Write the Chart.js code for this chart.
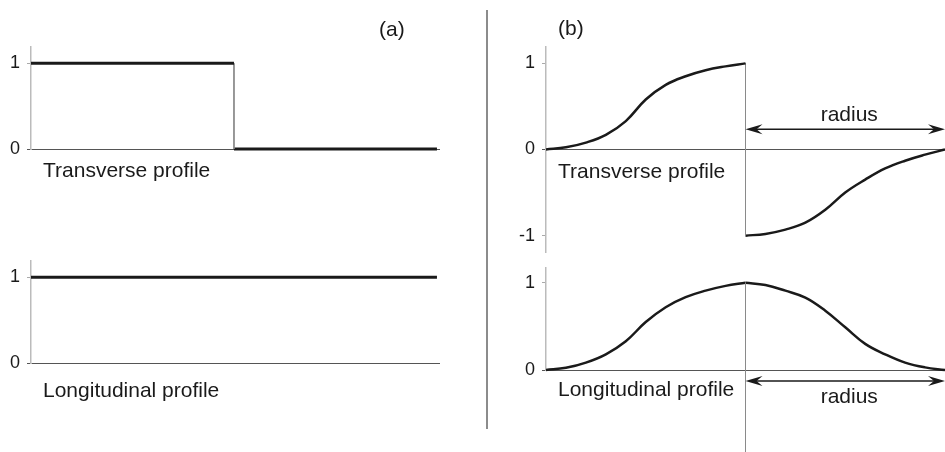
<!DOCTYPE html>
<html>
<head>
<meta charset="utf-8">
<script src="https://cdn.jsdelivr.net/npm/chart.js@4.4.1/dist/chart.umd.min.js"></script>
<style>
    html, body { margin: 0; padding: 0; background: #fff; }
    #wrap { position: relative; width: 945px; height: 452px; }
    #wrap canvas { position: absolute; left: 0; top: 0; }
</style>
</head>
<body>
<div id="wrap">
    <canvas id="aTop" width="945" height="452"></canvas>
    <canvas id="aBottom" width="945" height="452"></canvas>
    <canvas id="bTop" width="945" height="452"></canvas>
    <canvas id="bBottom" width="945" height="452"></canvas>
</div>
<script>
// Tick labels
const ticksA = [0, 1];
const ticksB = [-1, 0, 1];

// Panel (a): step profile and flat profile (x in radius units)
const aInsideX = [0, 1];
const aInsideY = [1, 1];
const aOutsideX = [1, 2];
const aOutsideY = [0, 0];
const aLongX = [0, 2];
const aLongY = [1, 1];

// Panel (b): smooth profiles
const bLeftX = [0, 0.1, 0.2, 0.3, 0.4, 0.5, 0.6, 0.7, 0.8, 0.9, 1.0];
const bRightX = [1.0, 1.1, 1.2, 1.3, 1.4, 1.5, 1.6, 1.7, 1.8, 1.9, 2.0];
const bTransLeft = [0, 0.025, 0.08, 0.17, 0.33, 0.58, 0.75, 0.85, 0.92, 0.965, 1];
const bTransRight = [-1, -0.98, -0.93, -0.85, -0.70, -0.50, -0.35, -0.22, -0.13, -0.06, 0];
const bLongLeft = [0, 0.025, 0.085, 0.18, 0.33, 0.55, 0.72, 0.835, 0.91, 0.965, 1];
const bLongRight = [1, 0.975, 0.91, 0.83, 0.68, 0.49, 0.30, 0.18, 0.085, 0.03, 0];

const FONT = '"Liberation Sans", Arial, sans-serif';
const INK = '#1a1a1a';

function pts(xs, ys) {
    return xs.map((x, i) => ({ x: x, y: ys[i] }));
}

function curve(data, width, smooth) {
    return { data: data, borderColor: INK, borderWidth: width, pointRadius: 0, tension: smooth ? 0.4 : 0, clip: 4 };
}

function thin(data) {
    return { data: data, borderColor: '#8a8a8a', borderWidth: 1, pointRadius: 0, clip: 4 };
}

function label(ctx, text, x, y, align) {
    ctx.save();
    ctx.font = '21px ' + FONT;
    ctx.fillStyle = INK;
    ctx.textAlign = align || 'left';
    ctx.textBaseline = 'alphabetic';
    ctx.fillText(text, x, y);
    ctx.restore();
}

function head(ctx, tipX, y, dir) {
    const len = 17, half = 5, notch = 11;
    ctx.beginPath();
    ctx.moveTo(tipX, y);
    ctx.lineTo(tipX + dir * len, y - half);
    ctx.lineTo(tipX + dir * notch, y);
    ctx.lineTo(tipX + dir * len, y + half);
    ctx.closePath();
    ctx.fill();
}

function arrow(ctx, x1, x2, y) {
    ctx.save();
    ctx.strokeStyle = INK;
    ctx.fillStyle = INK;
    ctx.lineWidth = 1.5;
    ctx.beginPath();
    ctx.moveTo(x1 + 8, y);
    ctx.lineTo(x2 - 8, y);
    ctx.stroke();
    head(ctx, x1, y, 1);
    head(ctx, x2, y, -1);
    ctx.restore();
}

// Build one panel
function makePanel(id, opt) {
    return new Chart(document.getElementById(id), {
        type: 'line',
        data: { datasets: opt.datasets },
        options: {
            responsive: false,
            animation: false,
            layout: { padding: { left: 0, top: opt.top, right: opt.right, bottom: opt.bottom } },
            plugins: { legend: { display: false }, tooltip: { enabled: false } },
            scales: {
                x: { type: 'linear', display: false, min: 0, max: opt.xMax },
                y: {
                    type: 'linear',
                    min: opt.yMin,
                    max: opt.yMax,
                    afterBuildTicks: s => { s.ticks = opt.ticks.map(v => ({ value: v })); },
                    afterFit: s => { s.width = opt.axisX; },
                    ticks: { padding: 7, color: INK, font: { family: FONT, size: 18 } },
                    grid: {
                        color: c => (c.tick && c.tick.value === 0) ? '#555' : 'rgba(0,0,0,0)',
                        tickColor: c => (c.tick && c.tick.value === 0) ? '#555' : '#aaa',
                        tickLength: 4,
                        lineWidth: 1
                    },
                    border: { color: '#bbb', width: 1.5 }
                }
            }
        },
        plugins: [{ id: 'notes_' + id, afterDraw: chart => opt.notes(chart) }]
    });
}

// (a) transverse
makePanel('aTop', {
    axisX: 31, top: 47, bottom: 303, right: 505, xMax: 2.015,
    yMin: 0, yMax: 1.19, ticks: ticksA,
    datasets: [
        curve(pts(aInsideX, aInsideY), 3),
        thin([{ x: 1, y: aInsideY[1] }, { x: 1, y: aOutsideY[0] }]),
        curve(pts(aOutsideX, aOutsideY), 3)
    ],
    notes: chart => {
        const ctx = chart.ctx, a = chart.chartArea, y0 = chart.scales.y.getPixelForValue(0);
        label(ctx, 'Transverse profile', a.left + 12, y0 + 28);
        label(ctx, '(a)', a.right - 61, a.top - 11);
        // separator between (a) and (b)
        ctx.save();
        ctx.strokeStyle = '#666';
        ctx.lineWidth = 1.5;
        ctx.beginPath();
        ctx.moveTo(487, 10);
        ctx.lineTo(487, 429);
        ctx.stroke();
        ctx.restore();
    }
});

// (a) longitudinal
makePanel('aBottom', {
    axisX: 31, top: 261, bottom: 89, right: 505, xMax: 2.015,
    yMin: 0, yMax: 1.19, ticks: ticksA,
    datasets: [curve(pts(aLongX, aLongY), 3)],
    notes: chart => {
        const a = chart.chartArea, y0 = chart.scales.y.getPixelForValue(0);
        label(chart.ctx, 'Longitudinal profile', a.left + 12, y0 + 34);
    }
});

// (b) transverse
makePanel('bTop', {
    axisX: 546, top: 47, bottom: 200, right: 0, xMax: 2,
    yMin: -1.19, yMax: 1.19, ticks: ticksB,
    datasets: [
        curve(pts(bLeftX, bTransLeft), 2.5, true),
        thin([{ x: 1, y: bTransLeft[bTransLeft.length - 1] }, { x: 1, y: bTransRight[0] }]),
        curve(pts(bRightX, bTransRight), 2.5, true)
    ],
    notes: chart => {
        const ctx = chart.ctx, a = chart.chartArea, xs = chart.scales.x, ys = chart.scales.y;
        const y0 = ys.getPixelForValue(0);
        label(ctx, '(b)', a.left + 12, a.top - 12);
        label(ctx, 'Transverse profile', a.left + 12, y0 + 28);
        const x1 = xs.getPixelForValue(1), x2 = xs.getPixelForValue(2);
        const ay = ys.getPixelForValue(0.235);
        arrow(ctx, x1, x2, ay);
        label(ctx, 'radius', (x1 + x2) / 2 + 4, ay - 8, 'center');
    }
});

// (b) longitudinal
makePanel('bBottom', {
    axisX: 546, top: 268, bottom: 82, right: 0, xMax: 2,
    yMin: 0, yMax: 1.17, ticks: ticksA,
    datasets: [
        curve(pts(bLeftX, bLongLeft), 2.5, true),
        curve(pts(bRightX, bLongRight), 2.5, true)
    ],
    notes: chart => {
        const ctx = chart.ctx, a = chart.chartArea, xs = chart.scales.x, ys = chart.scales.y;
        const y0 = ys.getPixelForValue(0);
        label(ctx, 'Longitudinal profile', a.left + 12, y0 + 26);
        const x1 = xs.getPixelForValue(1), x2 = xs.getPixelForValue(2);
        // centre line
        ctx.save();
        ctx.strokeStyle = '#8a8a8a';
        ctx.lineWidth = 1;
        ctx.beginPath();
        ctx.moveTo(x1, ys.getPixelForValue(1));
        ctx.lineTo(x1, chart.height);
        ctx.stroke();
        ctx.restore();
        const ay = ys.getPixelForValue(-0.126);
        arrow(ctx, x1, x2, ay);
        label(ctx, 'radius', (x1 + x2) / 2 + 4, ay + 22, 'center');
    }
});
</script>
</body>
</html>
